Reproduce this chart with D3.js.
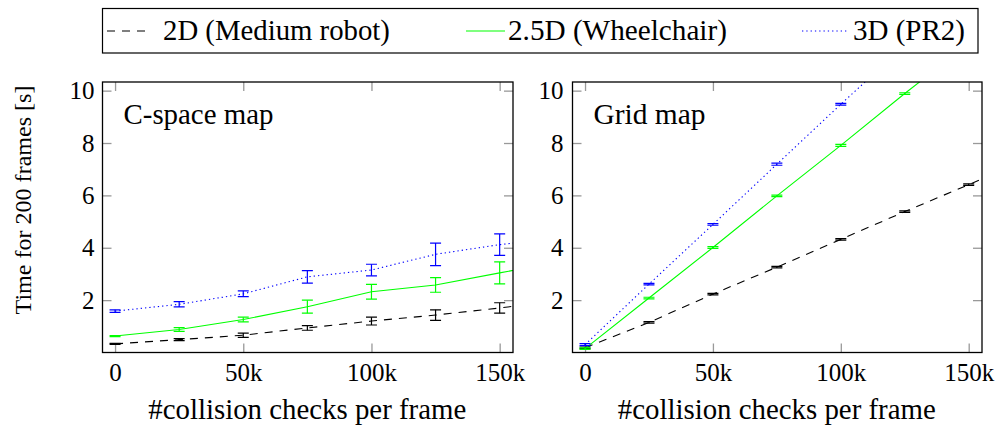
<!DOCTYPE html>
<html>
<head>
<meta charset="utf-8">
<script src="https://cdn.jsdelivr.net/npm/d3@7"></script>
<style>
  body { margin: 0; background: #fff; }
  svg { display: block; }
</style>
</head>
<body>
<div id="chart"></div>
<script>
// number of collision checks per frame (last point lies past the visible range)
const checks = [0, 25000, 50000, 75000, 100000, 125000, 150000, 175000];
const xTickValues = [0, 50000, 100000, 150000];
const xTickLabels = ["0", "50k", "100k", "150k"];
const yTickValues = [2, 4, 6, 8, 10];

const seriesNames = ["2D (Medium robot)", "2.5D (Wheelchair)", "3D (PR2)"];

// C-space map : time in seconds + half error bar
const cspace2D = [0.33, 0.49, 0.66, 0.94, 1.20, 1.43, 1.70, 2.00];
const cspace2DErr = [0.02, 0.04, 0.08, 0.09, 0.15, 0.20, 0.20];
const cspace25D = [0.63, 0.88, 1.26, 1.75, 2.32, 2.58, 3.04, 3.50];
const cspace25DErr = [0.02, 0.07, 0.09, 0.25, 0.28, 0.28, 0.42];
const cspace3D = [1.58, 1.84, 2.24, 2.89, 3.15, 3.75, 4.12, 4.40];
const cspace3DErr = [0.05, 0.10, 0.11, 0.24, 0.22, 0.43, 0.41];

// Grid map
const grid2D = [0.18, 1.15, 2.23, 3.26, 4.32, 5.38, 6.41, 7.45];
const grid2DErr = [0.03, 0.03, 0.03, 0.03, 0.03, 0.03, 0.03];
const grid25D = [0.15, 2.08, 4.01, 5.98, 7.91, 9.89, 11.80, 13.80];
const grid25DErr = [0.03, 0.03, 0.03, 0.03, 0.04, 0.03, 0.03];
const grid3D = [0.30, 2.61, 4.89, 7.19, 9.48, 11.72, 14.00, 16.30];
const grid3DErr = [0.04, 0.03, 0.03, 0.04, 0.03, 0.03, 0.03];

const styles = [
    { color: "#000000", dash: "8,7" },
    { color: "#00ff00", dash: null },
    { color: "#0000ff", dash: "1.3,3" }
];

const panels = [
    { title: "C-space map", left: 102.5, right: 513, titleWidth: 150,
      values: [cspace2D, cspace25D, cspace3D], errs: [cspace2DErr, cspace25DErr, cspace3DErr] },
    { title: "Grid map", left: 572.5, right: 982, titleWidth: 112,
      values: [grid2D, grid25D, grid3D], errs: [grid2DErr, grid25DErr, grid3DErr] }
];

const FONT = "'Liberation Serif', 'Times New Roman', Times, 'DejaVu Serif', 'Noto Serif', FreeSerif, serif";
const W = 999, H = 430;
const plotTop = 82, plotBottom = 352.5;

const svg = d3.select("#chart").append("svg")
    .attr("width", W)
    .attr("height", H)
    .style("font-family", FONT);

// we fit a text to a given width (the original font is Computer Modern)
function fitText(sel, width) {
    const size = parseFloat(sel.attr("font-size"));
    const w = sel.node().getComputedTextLength();
    sel.attr("font-size", (size * width / w).toFixed(2));
}

// legend box
const legend = svg.append("g");
legend.append("rect")
    .attr("x", 102.5).attr("y", 8.5)
    .attr("width", 875.5).attr("height", 44.5)
    .attr("fill", "none").attr("stroke", "#000").attr("stroke-width", 1.2);

const legendPos = [
    { x0: 107, x1: 147, tx: 163, tw: 227 },
    { x0: 466, x1: 505, tx: 508, tw: 219 },
    { x0: 802, x1: 848, tx: 853, tw: 112 }
];
seriesNames.forEach((name, i) => {
    const p = legendPos[i];
    legend.append("line")
        .attr("x1", p.x0).attr("x2", p.x1)
        .attr("y1", 31).attr("y2", 31)
        .attr("stroke", styles[i].color)
        .attr("stroke-width", 1.1)
        .attr("stroke-dasharray", styles[i].dash);
    const t = legend.append("text")
        .attr("x", p.tx).attr("y", 39.5)
        .attr("font-size", 26)
        .text(name);
    fitText(t, p.tw);
});

// y label shared by both panels
const ylab = svg.append("text")
    .attr("transform", "translate(31,200) rotate(-90)")
    .attr("text-anchor", "middle")
    .attr("font-size", 25)
    .text("Time for 200 frames [s]");
fitText(ylab, 229);

panels.forEach((panel, pi) => {
    const x = d3.scaleLinear().domain([-4900, 155200]).range([panel.left, panel.right]);
    const y = d3.scaleLinear().domain([0, 10.33]).range([plotBottom, plotTop]);

    const g = svg.append("g");

    const clipId = `clip${pi}`;
    g.append("clipPath").attr("id", clipId)
        .append("rect")
        .attr("x", panel.left).attr("y", plotTop)
        .attr("width", panel.right - panel.left).attr("height", plotBottom - plotTop);

    // axes with inward ticks on all four sides
    const axB = g.append("g").attr("transform", `translate(0,${plotBottom})`)
        .call(d3.axisBottom(x).tickValues(xTickValues)
            .tickFormat((d, i) => xTickLabels[i])
            .tickSizeInner(-9).tickSizeOuter(0).tickPadding(10.5));
    const axT = g.append("g").attr("transform", `translate(0,${plotTop})`)
        .call(d3.axisTop(x).tickValues(xTickValues).tickFormat("")
            .tickSizeInner(-9).tickSizeOuter(0));
    const axL = g.append("g").attr("transform", `translate(${panel.left},0)`)
        .call(d3.axisLeft(y).tickValues(yTickValues)
            .tickSizeInner(-9).tickSizeOuter(0).tickPadding(pi == 0 ? 8 : 9));
    const axR = g.append("g").attr("transform", `translate(${panel.right},0)`)
        .call(d3.axisRight(y).tickValues(yTickValues).tickFormat("")
            .tickSizeInner(-9).tickSizeOuter(0));

    [axB, axT, axL, axR].forEach(ax => {
        ax.attr("font-family", null).attr("font-size", null);
        ax.select(".domain").remove();
        ax.selectAll(".tick line").attr("stroke", "#999").attr("stroke-width", 1.3);
        ax.selectAll(".tick text")
            .attr("fill", "#000")
            .attr("font-size", 25);
    });

    // lines and error bars
    const plot = g.append("g").attr("clip-path", `url(#${clipId})`);
    const line = d3.line()
        .x((d, i) => x(checks[i]))
        .y(d => y(d));

    panel.values.forEach((vals, si) => {
        const st = styles[si];
        plot.append("path")
            .attr("d", line(vals))
            .attr("fill", "none")
            .attr("stroke", st.color)
            .attr("stroke-width", 1.1)
            .attr("stroke-dasharray", st.dash);

        const errs = panel.errs[si];
        errs.forEach((e, i) => {
            const cx = x(checks[i]);
            const lo = y(vals[i] - e), hi = y(vals[i] + e);
            const eb = plot.append("g")
                .attr("stroke", st.color)
                .attr("stroke-width", 1.2);
            eb.append("line").attr("x1", cx).attr("x2", cx).attr("y1", lo).attr("y2", hi);
            eb.append("line").attr("x1", cx - 5.5).attr("x2", cx + 5.5).attr("y1", lo).attr("y2", lo);
            eb.append("line").attr("x1", cx - 5.5).attr("x2", cx + 5.5).attr("y1", hi).attr("y2", hi);
        });
    });

    // frame
    g.append("rect")
        .attr("x", panel.left).attr("y", plotTop)
        .attr("width", panel.right - panel.left).attr("height", plotBottom - plotTop)
        .attr("fill", "none").attr("stroke", "#000").attr("stroke-width", 1.3);

    // panel title
    const t = g.append("text")
        .attr("x", panel.left + 21).attr("y", 124)
        .attr("font-size", 27)
        .text(panel.title);
    fitText(t, panel.titleWidth);

    // x label
    const xl = g.append("text")
        .attr("x", (panel.left + panel.right) / 2 - 0.5).attr("y", 419)
        .attr("text-anchor", "middle")
        .attr("font-size", 27)
        .text("#collision checks per frame");
    fitText(xl, 318);
});
</script>
</body>
</html>
